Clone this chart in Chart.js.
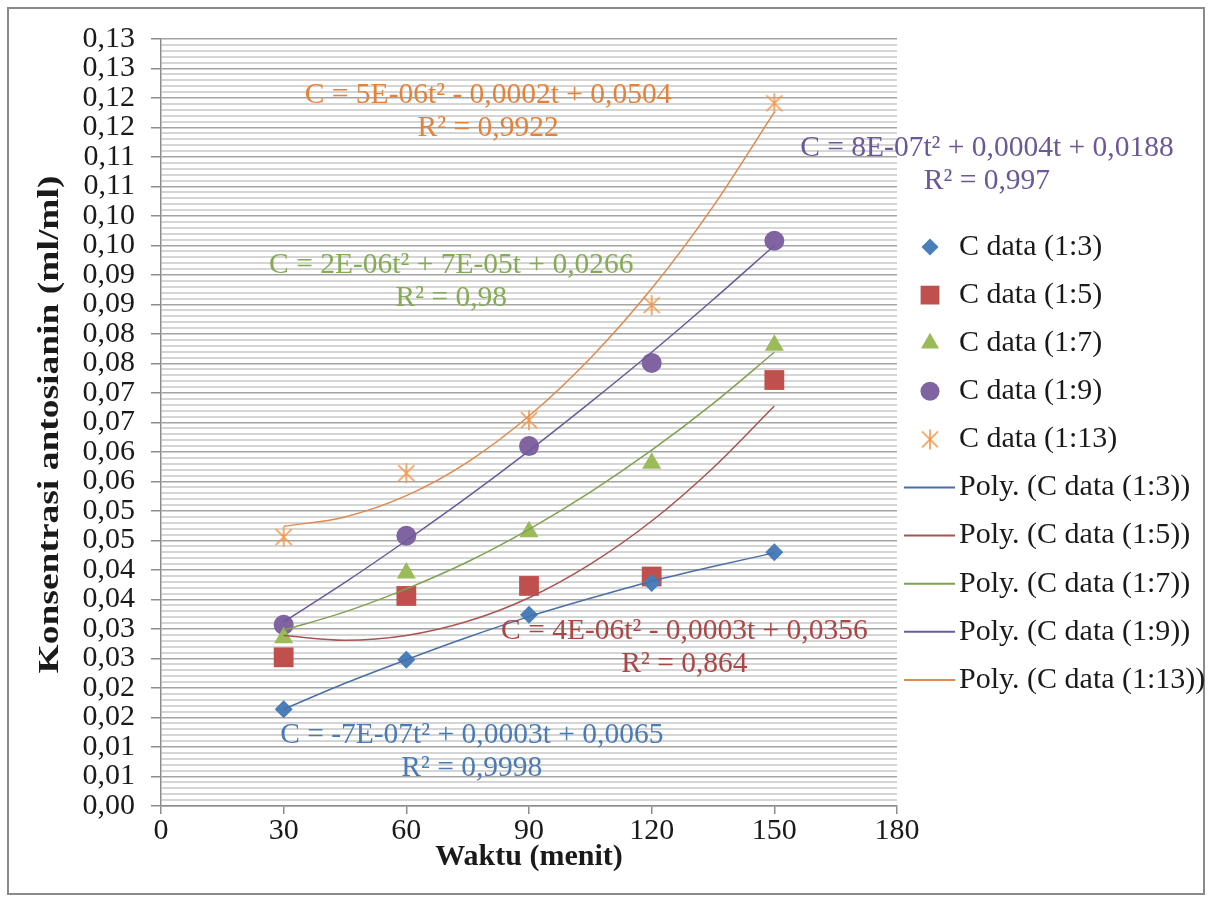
<!DOCTYPE html>
<html>
<head>
<meta charset="utf-8">
<script src="https://cdn.jsdelivr.net/npm/chart.js@4/dist/chart.umd.min.js"></script>
<style>
  html, body { margin: 0; padding: 0; background: #fff; }
  #wrap { width: 1211px; height: 899px; position: relative; }
</style>
</head>
<body>
<div id="wrap"><canvas id="chart"></canvas></div>
<script>
// sampling times (menit)
const times = [30, 60, 90, 120, 150];
const trendTimes = [30, 45, 60, 75, 90, 105, 120, 135, 150];

const seriesNames = ['C data (1:3)', 'C data (1:5)', 'C data (1:7)', 'C data (1:9)', 'C data (1:13)'];

// measured points
const data13 = [0.0164, 0.0248, 0.0324, 0.0378, 0.0430];
const data15 = [0.0252, 0.0356, 0.0373, 0.0389, 0.0722];
const data17 = [0.0285, 0.0395, 0.0465, 0.0581, 0.0781];
const data19 = [0.0307, 0.0458, 0.0610, 0.0751, 0.0958];
const data113 = [0.0456, 0.0564, 0.0654, 0.0849, 0.1191];

// poly trendlines as drawn
const trend13 = [0.0164, 0.0208, 0.0248, 0.0286, 0.0321, 0.0352, 0.0381, 0.0406, 0.0429];
const trend15 = [0.0289, 0.0281, 0.0289, 0.0313, 0.0353, 0.0410, 0.0483, 0.0573, 0.0678];
const trend17 = [0.0298, 0.0329, 0.0368, 0.0414, 0.0469, 0.0532, 0.0603, 0.0682, 0.0769];
const trend19 = [0.0312, 0.0379, 0.0450, 0.0524, 0.0602, 0.0684, 0.0769, 0.0858, 0.0950];
const trend113 = [0.0474, 0.0490, 0.0526, 0.0583, 0.0661, 0.0759, 0.0877, 0.1016, 0.1176];

const yTickLabels = ['0,00', '0,01', '0,01', '0,02', '0,02', '0,03', '0,03', '0,04', '0,04',
  '0,05', '0,05', '0,06', '0,06', '0,07', '0,07', '0,08', '0,08', '0,09', '0,09',
  '0,10', '0,10', '0,11', '0,11', '0,12', '0,12', '0,13', '0,13'];
const xTickLabels = ['0', '30', '60', '90', '120', '150', '180'];

const equations = [
  'C = -7E-07t\u00B2 + 0,0003t + 0,0065',
  'C = 4E-06t\u00B2 - 0,0003t + 0,0356',
  'C = 2E-06t\u00B2 + 7E-05t + 0,0266',
  'C = 8E-07t\u00B2 + 0,0004t + 0,0188',
  'C = 5E-06t\u00B2 - 0,0002t + 0,0504'
];
const rSquared = ['R\u00B2 = 0,9998', 'R\u00B2 = 0,864', 'R\u00B2 = 0,98', 'R\u00B2 = 0,997', 'R\u00B2 = 0,9922'];

const pointSets = [data13, data15, data17, data19, data113];
const trendSets = [trend13, trend15, trend17, trend19, trend113];

const markerColors = ['#4a7ebb', '#c0504d', '#9bbb59', '#8064a2', '#f79646'];
const lineColors = ['#4a6fa5', '#a85452', '#82a050', '#6b5b98', '#e08a4c'];
const textColors = ['#4a7bb6', '#ad4545', '#86ab55', '#6a5898', '#e5823a'];

// where each equation label sits (t, C of first line centre)
const labelAnchors = [[76, 0.0120], [128, 0.0297], [71, 0.0917], [202, 0.1115], [80, 0.1205]];

const SERIF = '"Liberation Serif", "Times New Roman", serif';
const yTitle = 'Konsentrasi antosianin (ml/ml)';

function makeStar(color) {
  const size = 22;
  const c = document.createElement('canvas');
  c.width = size; c.height = size;
  const g = c.getContext('2d');
  const m = size / 2;
  g.strokeStyle = color;
  g.lineWidth = 1.6;
  g.beginPath();
  g.moveTo(m - 8, m - 8); g.lineTo(m + 8, m + 8);
  g.moveTo(m + 8, m - 8); g.lineTo(m - 8, m + 8);
  g.moveTo(m, m - 10); g.lineTo(m, m + 10);
  g.stroke();
  return c;
}

const markerStyles = ['rectRot', 'rect', 'triangle', 'circle', makeStar(markerColors[4])];
const markerRadius = [9, 14, 11, 10, 10];

const datasets = [];
seriesNames.forEach((name, i) => {
  datasets.push({
    label: name,
    data: times.map((t, j) => ({ x: t, y: pointSets[i][j] })),
    showLine: false,
    pointStyle: markerStyles[i],
    pointRadius: markerRadius[i],
    pointBackgroundColor: markerColors[i],
    pointBorderColor: markerColors[i],
    pointBorderWidth: 0,
    order: 1
  });
});
seriesNames.forEach((name, i) => {
  datasets.push({
    label: 'Poly. (' + name + ')',
    data: trendTimes.map((t, j) => ({ x: t, y: trendSets[i][j] })),
    showLine: true,
    borderColor: lineColors[i],
    borderWidth: 1.5,
    pointRadius: 0,
    cubicInterpolationMode: 'monotone',
    order: 0
  });
});

const framePlugin = {
  id: 'frame',
  beforeDraw(chart) {
    const ctx = chart.ctx;
    ctx.save();
    ctx.fillStyle = '#ffffff';
    ctx.fillRect(0, 0, chart.width, chart.height);
    ctx.strokeStyle = '#8a8a8a';
    ctx.lineWidth = 2;
    ctx.strokeRect(8, 8, 1196, 886);
    ctx.restore();
  }
};

// y title drawn by hand so it can be stretched along its length like the original
const yTitlePlugin = {
  id: 'yTitle',
  afterDraw(chart) {
    const ctx = chart.ctx;
    const ys = chart.scales.y;
    ctx.save();
    ctx.translate(50, (ys.top + ys.bottom) / 2 + 2);
    ctx.rotate(-Math.PI / 2);
    ctx.scale(1.25, 1);
    ctx.font = 'bold 30px ' + SERIF;
    ctx.fillStyle = '#1a1a1a';
    ctx.textAlign = 'center';
    ctx.textBaseline = 'middle';
    ctx.fillText(yTitle, 0, 0);
    ctx.restore();
  }
};

const equationPlugin = {
  id: 'equations',
  afterDraw(chart) {
    const ctx = chart.ctx;
    const xs = chart.scales.x, ys = chart.scales.y;
    ctx.save();
    ctx.font = '29.5px ' + SERIF;
    ctx.textAlign = 'center';
    ctx.textBaseline = 'middle';
    labelAnchors.forEach(([t, c], i) => {
      const px = xs.getPixelForValue(t);
      const py = ys.getPixelForValue(c);
      ctx.fillStyle = textColors[i];
      ctx.fillText(equations[i], px, py);
      ctx.fillText(rSquared[i], px, py + 33);
    });
    ctx.restore();
  }
};

const legendPlugin = {
  id: 'sideLegend',
  afterDraw(chart) {
    const ctx = chart.ctx;
    ctx.save();
    ctx.font = '30px ' + SERIF;
    ctx.textAlign = 'left';
    ctx.textBaseline = 'middle';
    chart.data.datasets.forEach((ds, i) => {
      const y = 247 + i * 48.1;
      if (ds.showLine) {
        ctx.strokeStyle = ds.borderColor;
        ctx.lineWidth = 2;
        ctx.beginPath();
        ctx.moveTo(904, y);
        ctx.lineTo(955, y);
        ctx.stroke();
      } else {
        ctx.fillStyle = ds.pointBackgroundColor;
        ctx.strokeStyle = ds.pointBorderColor;
        Chart.helpers.drawPoint(ctx, {
          pointStyle: ds.pointStyle,
          radius: ds.pointRadius * 0.95,
          rotation: 0,
          borderWidth: 0
        }, 930, y);
      }
      ctx.fillStyle = '#1a1a1a';
      ctx.fillText(ds.label, 959, y);
    });
    ctx.restore();
  }
};

new Chart(document.getElementById('chart'), {
  type: 'scatter',
  data: { datasets },
  plugins: [framePlugin, yTitlePlugin, equationPlugin, legendPlugin],
  options: {
    responsive: true,
    maintainAspectRatio: false,
    animation: false,
    events: [],
    layout: { padding: { left: 0, right: 314, top: 39, bottom: 0 } },
    plugins: {
      legend: { display: false },
      tooltip: { enabled: false }
    },
    scales: {
      x: {
        type: 'linear',
        min: 0,
        max: 180,
        ticks: {
          stepSize: 30,
          padding: 2,
          color: '#1a1a1a',
          font: { family: SERIF, size: 30, lineHeight: 1 },
          callback: (v, i) => xTickLabels[i]
        },
        grid: { drawOnChartArea: false, tickLength: 8, color: '#8c8c8c', lineWidth: 1.5 },
        border: { color: '#8c8c8c', width: 1.5 },
        title: {
          display: true,
          text: 'Waktu (menit)',
          color: '#1a1a1a',
          font: { family: SERIF, size: 30, weight: 'bold', lineHeight: 1.2 },
          padding: { top: 0, bottom: 24 }
        },
        afterFit: s => { s.height = 93; }
      },
      y: {
        min: 0,
        max: 0.13,
        ticks: {
          stepSize: 0.001,
          autoSkip: false,
          padding: 16,
          color: '#1a1a1a',
          font: { family: SERIF, size: 30, lineHeight: 1 },
          callback: (v, i) => (i % 5 === 0 ? yTickLabels[i / 5] : '')
        },
        grid: {
          color: c => (c.index % 5 === 0 ? '#a4a4a4' : '#d5d5d5'),
          lineWidth: c => (c.index % 5 === 0 ? 1.5 : 2),
          tickColor: c => (c.index % 5 === 0 ? '#8c8c8c' : 'rgba(0,0,0,0)'),
          tickLength: 10
        },
        border: { color: '#8c8c8c', width: 1.5 },
        title: { display: false },
        afterFit: s => { s.width = 161; }
      }
    }
  }
});
</script>
</body>
</html>
